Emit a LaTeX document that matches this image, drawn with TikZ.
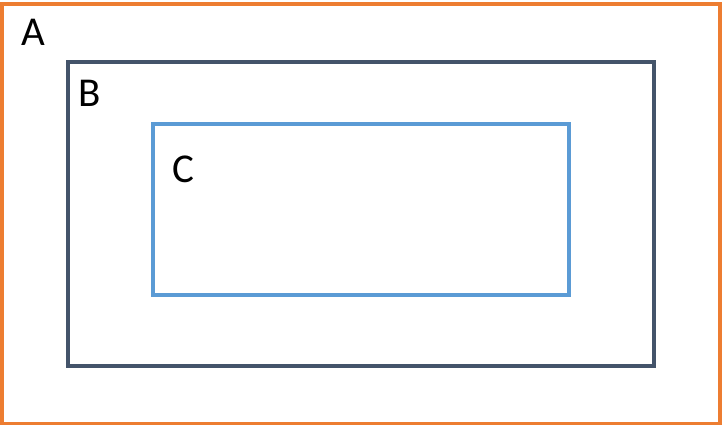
\documentclass[tikz,border=0pt]{standalone}
\usepackage{fontspec}
\setmainfont{Carlito}
\usepackage{xcolor}
\usetikzlibrary{positioning}

\definecolor{setA}{RGB}{237,125,49}
\definecolor{setB}{RGB}{68,84,106}
\definecolor{setC}{RGB}{91,155,213}

\tikzset{
  setbox/.style={line width=3.75pt},
  setlabel/.style={anchor=base west,inner sep=0pt,font=\fontsize{41}{48}\selectfont}
}

\begin{document}
\begin{tikzpicture}[x=1pt,y=1pt,yscale=-1]
  \useasboundingbox (0,0) rectangle (723,426);

  %Shape: Rectangle A
  \draw [setbox,color=setA] (1.8,3.8) rectangle (719.8,423.5) ;
  %Shape: Rectangle B
  \draw [setbox,color=setB] (68,62) rectangle (654,366) ;
  %Shape: Rectangle C
  \draw [setbox,color=setC] (153,124) rectangle (569,295) ;

  % Text Node
  \node (labA) [setlabel] at (21,45) {A};
  % Text Node
  \node (labB) [setlabel] at (78,106) {B};
  % Text Node
  \node (labC) [setlabel] at (172,182) {C};
\end{tikzpicture}
\end{document}
